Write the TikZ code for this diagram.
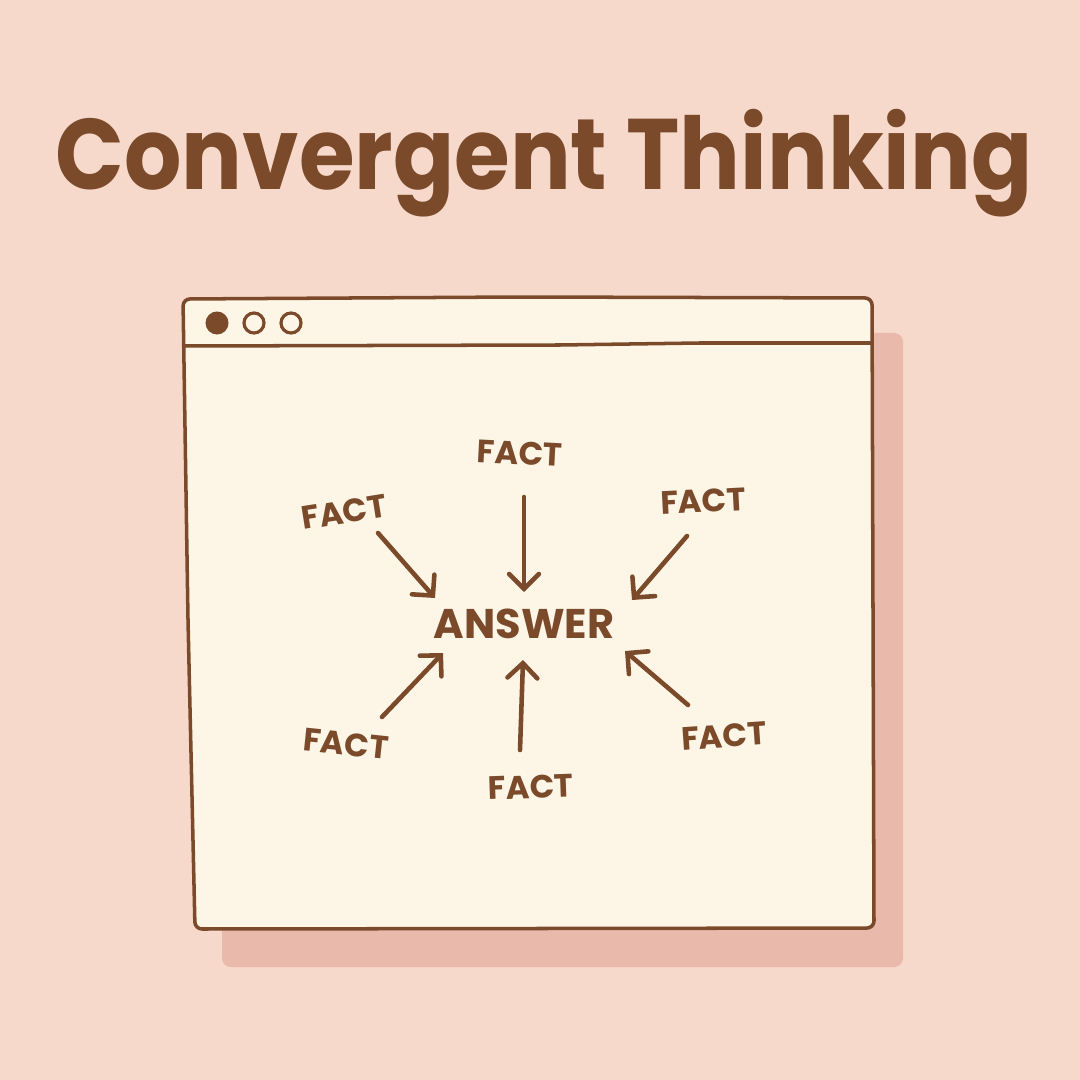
\documentclass[tikz,border=0pt]{standalone}
\usepackage{fontspec}
\setmainfont{Poppins}
\usetikzlibrary{calc,arrows.meta}
\definecolor{cvbrown}{HTML}{7B4A2B}
\definecolor{cvpeach}{HTML}{F7D9CB}
\definecolor{cvcream}{HTML}{FDF6E7}
\definecolor{cvshadow}{HTML}{E9B9AC}

\tikzset{
  fact/.style={text=cvbrown, inner sep=0pt, font=\fontsize{9.2}{10}\selectfont\bfseries},
  arr/.style={draw=cvbrown, line width=1.3pt, line cap=round,
    -{Straight Barb[length=4.2pt,width=8.5pt,line cap=round]}},
  win/.style={draw=cvbrown, line width=1pt, line join=round}
}

\begin{document}
\begin{tikzpicture}[x=0.01cm, y=-0.01cm]
\useasboundingbox (0,0) rectangle (1080,1080);
\fill[cvpeach] (0,0) rectangle (1080,1080);

% title
\node[text=cvbrown, anchor=base, inner sep=0pt,
      font=\fontsize{28.5}{32}\selectfont\bfseries] (title) at (544,190)
      {\scalebox{0.9}[1]{Convergent Thinking}};

% window with its shadow
\fill[cvshadow, rounded corners=2.5pt] (222,333) rectangle (903,967);
\filldraw[win, fill=cvcream, rounded corners=2pt]
  (183,299) -- (520,297) -- (872,298) -- (874,928) -- (195,929) -- (188,620) -- cycle;
\draw[win] (184,346) -- (560,345) -- (700,343) -- (871,343);
\fill[cvbrown] (217,323) circle[radius=0.115cm];
\draw[cvbrown, line width=0.9pt] (254,323) circle[radius=0.1cm];
\draw[cvbrown, line width=0.9pt] (291,323) circle[radius=0.1cm];

% answer and facts
\node[text=cvbrown, inner sep=0pt, font=\fontsize{11.8}{13}\selectfont\bfseries] (ans) at (524,624) {ANSWER};
\node[fact, rotate=-3] (fT)  at (520,453) {FACT};
\node[fact, rotate=9]  (fUL) at (344,512) {FACT};
\node[fact, rotate=3]  (fUR) at (703,501) {FACT};
\node[fact, rotate=-6] (fLL) at (346,744) {FACT};
\node[fact, rotate=2]  (fB)  at (531,787) {FACT};
\node[fact, rotate=4]  (fLR) at (724,736) {FACT};

% arrows into the answer
\foreach \f/\tx/\ty/\hx/\hy in {fUL/34/21/-89/-26, fT/4/44/0/-32, fUR/-16/35/108/-24,
                               fLL/36/-27/-81/29, fB/-11/-37/-1/36, fLR/-36/-31/101/27}
  \draw[arr] ($(\f)+(\tx,\ty)$) -- ($(ans)+(\hx,\hy)$);
\end{tikzpicture}
\end{document}
